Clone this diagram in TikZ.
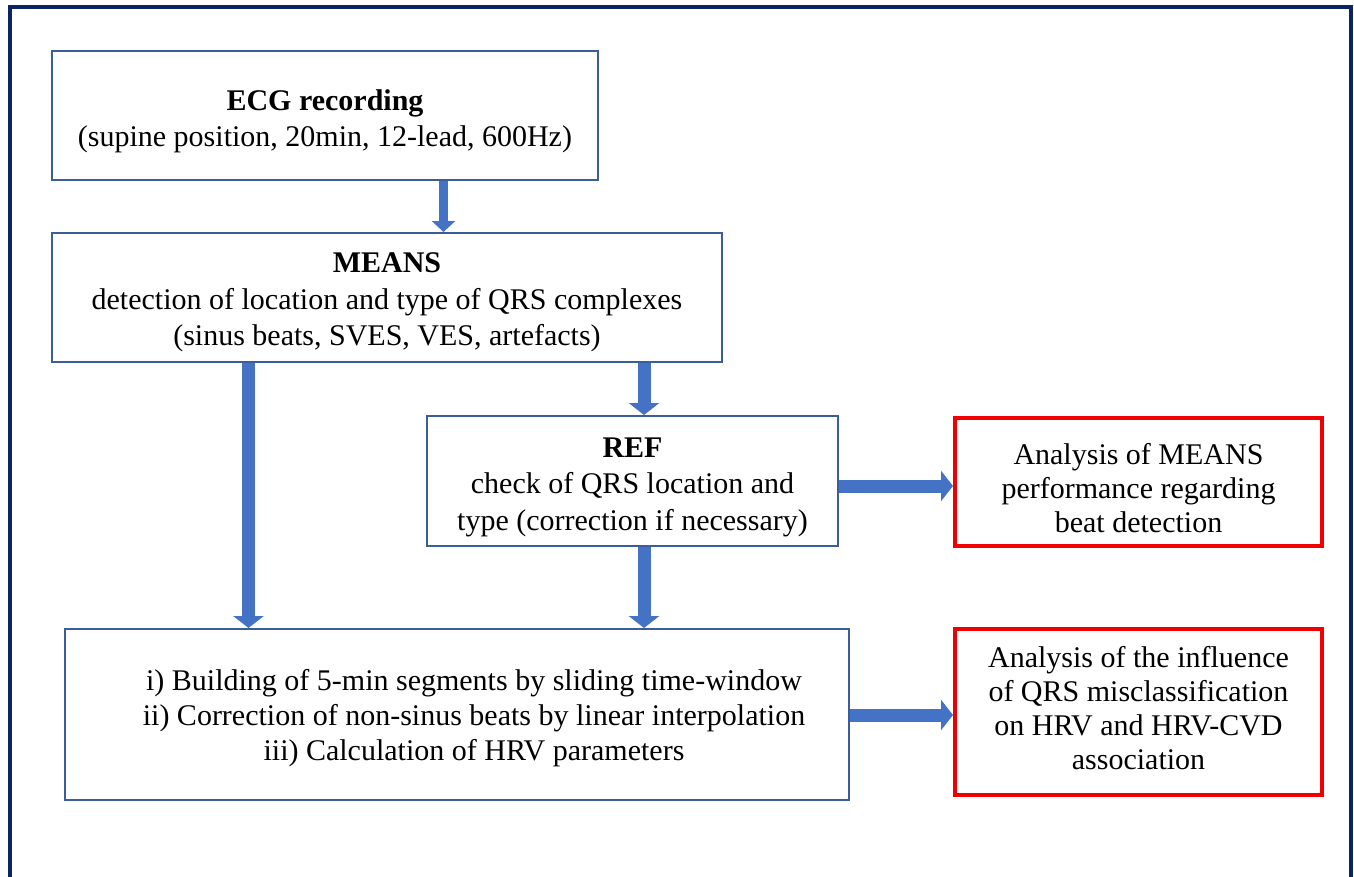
\documentclass[tikz,border=0pt]{standalone}
\usepackage{fontspec}
\setmainfont{Liberation Serif}
\usetikzlibrary{arrows.meta}

\definecolor{framenavy}{HTML}{0B2463}
\definecolor{boxblue}{HTML}{3B5E9B}
\definecolor{arrowblue}{HTML}{4472C4}
\definecolor{outred}{HTML}{F00000}

\tikzset{
  flowbox/.style={draw=boxblue, line width=2pt, fill=white, inner sep=0pt},
  outbox/.style={draw=outred, line width=4pt, fill=white, inner sep=0pt},
  boxtext/.style={align=center, inner sep=0pt, font=\fontsize{30}{36.5}\selectfont},
  outtext/.style={align=center, inner sep=0pt, font=\fontsize{30}{34}\selectfont},
  bigarrow/.style={draw=arrowblue, line width=13pt,
    -{Triangle[width=30pt,length=12pt]}},
  smallarrow/.style={draw=arrowblue, line width=9pt,
    -{Triangle[width=23pt,length=11pt]}},
}

\begin{document}
\begin{tikzpicture}[x=1pt, y=-1pt]
  \useasboundingbox (0,0) rectangle (1354,876);
  \fill[white] (0,0) rectangle (1354,876);

  % outer frame (open at the bottom edge of the page)
  \draw[framenavy, line width=3.5pt] (10,890) -- (10,7) -- (1351,7) -- (1351,890);

  % process boxes
  \node[flowbox, minimum width=546pt, minimum height=129pt,
    label={[boxtext, yshift=-6pt]center:{\textbf{ECG recording}\\(supine position, 20min, 12-lead, 600Hz)}}]
    (ecg) at (325,115.5) {};
  \node[flowbox, minimum width=670pt, minimum height=129pt,
    label={[boxtext, yshift=-5pt]center:{\textbf{MEANS}\\detection of location and type of QRS complexes\\(sinus beats, SVES, VES, artefacts)}}]
    (means) at (387,297.5) {};
  \node[flowbox, minimum width=411pt, minimum height=130pt,
    label={[boxtext, yshift=-6pt]center:{\textbf{REF}\\check of QRS location and\\type (correction if necessary)}}]
    (ref) at (632.5,481) {};
  \node[flowbox, minimum width=784pt, minimum height=171pt,
    label={[boxtext, font=\fontsize{30}{35}\selectfont, xshift=17pt, yshift=-4pt]center:{i) Building of 5-min segments by sliding time-window\\
     ii) Correction of non-sinus beats by linear interpolation\\
     iii) Calculation of HRV parameters}}]
    (proc) at (457,714.5) {};

  % analysis boxes
  \node[outbox, minimum width=367pt, minimum height=128pt,
    label={[outtext, yshift=-6pt]center:{Analysis of MEANS\\performance regarding\\beat detection}}]
    (perf) at (1138.5,482) {};
  \node[outbox, minimum width=367pt, minimum height=166pt,
    label={[outtext, yshift=4pt]center:{Analysis of the influence\\of QRS misclassification\\on HRV and HRV-CVD\\association}}]
    (infl) at (1138.5,712) {};

  % arrow columns and rows
  \coordinate (c1) at (443.5,0);
  \coordinate (c2) at (248.5,0);
  \coordinate (c3) at (644,0);
  \coordinate (r1) at (0,486);
  \coordinate (r2) at (0,715);

  \draw[smallarrow] (ecg.south -| c1) -- (means.north -| c1);
  \draw[bigarrow] (means.south -| c2) -- (proc.north -| c2);
  \draw[bigarrow] (means.south -| c3) -- (ref.north -| c3);
  \draw[bigarrow] (ref.south -| c3) -- (proc.north -| c3);
  \draw[bigarrow] (ref.east |- r1) -- (perf.west |- r1);
  \draw[bigarrow] (proc.east |- r2) -- (infl.west |- r2);
\end{tikzpicture}
\end{document}
